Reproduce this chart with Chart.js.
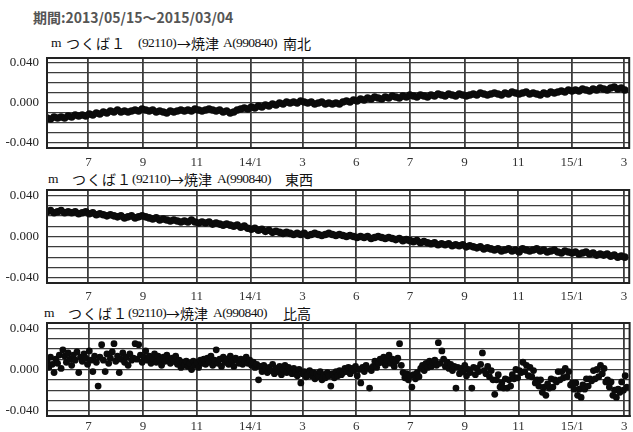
<!DOCTYPE html>
<html>
<head>
<meta charset="utf-8">
<script src="https://cdn.jsdelivr.net/npm/chart.js@4.4.0/dist/chart.umd.min.js"></script>
<style>
body { margin: 0; background: #fff; width: 633px; height: 432px; overflow: hidden; position: relative;
       font-family: "Liberation Serif", "Noto Sans CJK JP", serif; }
canvas { position: absolute; left: 0; }
.hdr { position: absolute; left: 33px; top: 7px; font: bold 14px "Noto Sans CJK JP", sans-serif; color: #555; white-space: nowrap; }
.t { position: absolute; font-size: 13.5px; letter-spacing: -0.6px; line-height: 16px; height: 16px; color: #111; white-space: nowrap; }
.j { font-family: "Noto Sans CJK JP", sans-serif; font-size: 14px; letter-spacing: 0; }
.k { letter-spacing: 1px; }
</style>
</head>
<body>
<div class="hdr">期間:2013/05/15～2015/03/04</div>

<div class="t" style="left:51px;top:35px">m</div>
<div class="t j k" style="left:66px;top:35px">つくば１</div>
<div class="t" style="left:138px;top:35px">(92110)</div>
<div class="t j" style="left:177px;top:35px">→焼津</div>
<div class="t" style="left:223px;top:35px">A(990840)</div>
<div class="t j" style="left:283px;top:35px">南北</div>

<div class="t" style="left:48px;top:171px">m</div>
<div class="t j k" style="left:72px;top:171px">つくば１</div>
<div class="t" style="left:132px;top:171px">(92110)</div>
<div class="t j" style="left:170px;top:171px">→焼津</div>
<div class="t" style="left:217px;top:171px">A(990840)</div>
<div class="t j" style="left:285px;top:171px">東西</div>

<div class="t" style="left:44px;top:305px">m</div>
<div class="t j k" style="left:68px;top:305px">つくば１</div>
<div class="t" style="left:128px;top:305px">(92110)</div>
<div class="t j" style="left:166px;top:305px">→焼津</div>
<div class="t" style="left:213px;top:305px">A(990840)</div>
<div class="t j" style="left:283px;top:305px">比高</div>

<canvas id="c1" width="633" height="120" style="top:50px"></canvas>
<canvas id="c2" width="633" height="123" style="top:182px"></canvas>
<canvas id="c3" width="633" height="117" style="top:315px"></canvas>
<script>
// days counted from 2013/05/15
const xTickDays = [47, 109, 170, 231, 290, 351, 412, 474, 535, 596, 655];
const xTickLabels = ['7', '9', '11', '14/1', '3', '6', '7', '9', '11', '15/1', '3'];
const yGrid = [-0.04, -0.03, -0.02, -0.01, 0, 0.01, 0.02, 0.03, 0.04];
const yLabelled = [-0.04, 0, 0.04];

// 南北, one value every 4 days (m)
const stepNS = 4;
const valuesNS = [
 -0.015,-0.016,-0.014,-0.015,-0.014,-0.015,-0.013,-0.014,-0.012,-0.013,-0.012,-0.013,
 -0.011,-0.012,-0.010,-0.011,-0.009,-0.010,-0.008,-0.009,-0.007,-0.009,-0.008,-0.009,
 -0.008,-0.007,-0.008,-0.006,-0.007,-0.008,-0.007,-0.009,-0.008,-0.009,-0.010,-0.008,
 -0.009,-0.008,-0.007,-0.008,-0.007,-0.008,-0.006,-0.007,-0.008,-0.007,-0.006,-0.007,
 -0.008,-0.007,-0.009,-0.008,-0.010,-0.009,-0.007,-0.006,-0.005,-0.006,-0.004,-0.005,
 -0.003,-0.004,-0.002,-0.003,-0.001,-0.002,0.000,-0.001,0.001,0.000,0.001,0.000,
 0.002,0.001,0.000,0.001,-0.001,0.000,0.001,-0.001,0.000,-0.001,0.000,-0.001,
 0.001,0.002,0.001,0.003,0.002,0.004,0.003,0.005,0.004,0.006,0.005,0.004,
 0.006,0.005,0.007,0.006,0.005,0.007,0.006,0.008,0.007,0.006,0.008,0.007,
 0.006,0.008,0.007,0.009,0.008,0.007,0.009,0.008,0.007,0.009,0.008,0.007,
 0.008,0.009,0.008,0.010,0.009,0.008,0.009,0.010,0.009,0.008,0.010,0.009,
 0.011,0.010,0.009,0.010,0.011,0.009,0.010,0.009,0.008,0.010,0.009,0.011,
 0.010,0.011,0.012,0.011,0.013,0.012,0.013,0.012,0.014,0.013,0.012,0.014,
 0.013,0.015,0.014,0.013,0.015,0.016,0.014,0.015,0.013
];

// 東西, one value every 4 days (m)
const stepEW = 4;
const valuesEW = [
 0.024,0.025,0.023,0.024,0.025,0.023,0.024,0.023,0.024,0.022,0.023,0.024,
 0.022,0.023,0.021,0.022,0.021,0.020,0.021,0.020,0.019,0.020,0.018,0.019,
 0.020,0.018,0.019,0.020,0.019,0.018,0.017,0.018,0.016,0.017,0.016,0.015,
 0.016,0.015,0.014,0.015,0.014,0.016,0.014,0.013,0.014,0.013,0.014,0.012,
 0.013,0.012,0.011,0.012,0.011,0.010,0.011,0.009,0.010,0.008,0.007,0.008,
 0.006,0.007,0.005,0.006,0.004,0.005,0.004,0.003,0.004,0.003,0.002,0.003,
 0.002,0.003,0.001,0.002,0.003,0.002,0.001,0.002,0.003,0.002,0.001,0.002,
 0.001,0.000,0.001,0.000,-0.001,0.000,-0.001,0.000,-0.002,-0.001,0.000,-0.001,
 -0.002,-0.001,-0.002,-0.003,-0.002,-0.004,-0.003,-0.004,-0.005,-0.004,-0.006,-0.005,
 -0.006,-0.007,-0.006,-0.008,-0.007,-0.008,-0.007,-0.009,-0.008,-0.009,-0.008,-0.010,
 -0.009,-0.010,-0.011,-0.010,-0.012,-0.011,-0.012,-0.013,-0.012,-0.014,-0.013,-0.012,
 -0.014,-0.013,-0.015,-0.012,-0.013,-0.014,-0.013,-0.012,-0.014,-0.013,-0.015,-0.014,
 -0.013,-0.015,-0.016,-0.014,-0.015,-0.016,-0.015,-0.017,-0.016,-0.015,-0.017,-0.016,
 -0.018,-0.017,-0.018,-0.017,-0.019,-0.018,-0.020,-0.019,-0.020
];

// 比高, one value every 2 days (m)
const stepUD = 2;
const valuesUD = [
 0.008,0.002,0.012,0.005,-0.003,0.010,0.006,0.014,0.001,0.019,
 0.013,0.007,0.016,0.010,0.004,0.014,0.009,0.017,-0.003,0.012,
 0.008,0.015,0.011,0.005,0.018,0.009,-0.002,0.013,0.007,-0.016,
 0.012,0.024,0.009,-0.002,0.015,0.006,0.011,0.017,0.025,0.008,
 0.013,-0.003,0.010,0.016,0.007,0.012,0.004,0.015,0.009,0.011,
 0.025,0.010,0.024,0.014,0.007,0.012,0.018,0.009,0.013,0.006,
 0.011,0.015,0.007,0.013,0.009,0.004,0.012,0.008,0.014,0.010,
 0.006,0.011,0.008,0.013,0.005,0.009,0.002,0.007,0.004,0.008,
 0.003,0.006,0.000,0.008,0.004,0.007,0.002,0.009,0.006,0.010,
 0.005,0.011,0.007,0.013,0.004,0.009,0.019,0.006,0.010,0.003,
 0.012,0.007,0.010,0.005,0.013,0.008,0.003,0.011,0.009,0.006,
 0.010,0.005,0.008,0.012,0.006,0.009,0.004,0.007,0.002,0.005,
 -0.010,0.003,-0.002,0.004,0.001,-0.003,0.002,-0.001,0.005,-0.004,
 0.001,-0.002,0.003,-0.005,0.000,0.004,-0.003,0.002,-0.001,-0.004,
 0.001,-0.003,-0.006,0.000,-0.013,-0.004,-0.002,-0.007,-0.005,-0.001,
 -0.006,-0.003,-0.009,-0.004,-0.007,-0.002,-0.010,-0.005,-0.008,-0.003,
 -0.006,-0.016,-0.004,-0.008,-0.002,-0.006,-0.001,-0.005,-0.003,0.001,
 -0.002,0.002,-0.004,0.001,-0.001,0.003,-0.006,0.000,-0.013,0.002,
 -0.002,0.004,0.001,-0.018,-0.001,0.003,0.008,0.002,0.006,0.010,
 0.007,0.012,0.004,0.009,0.014,0.006,0.010,0.003,0.008,0.011,
 0.025,0.004,-0.003,-0.008,-0.004,-0.010,-0.006,-0.017,-0.005,-0.009,
 -0.003,-0.007,0.001,0.004,-0.001,0.006,0.002,0.008,0.003,0.007,
 0.009,0.004,0.026,0.006,0.018,0.010,0.003,0.007,0.001,0.005,
 -0.001,0.003,-0.018,0.002,-0.004,0.001,-0.002,0.004,-0.006,0.000,
 -0.003,-0.018,0.002,-0.005,0.001,-0.002,0.005,0.016,-0.001,-0.004,
 0.003,-0.007,-0.001,-0.010,-0.024,-0.010,-0.005,-0.017,-0.013,-0.018,
 -0.009,-0.018,-0.010,-0.016,-0.005,-0.009,0.000,-0.008,-0.001,-0.003,
 0.007,-0.002,0.004,-0.006,0.002,-0.007,-0.001,-0.013,-0.010,-0.016,
 -0.010,-0.022,-0.017,-0.025,-0.014,-0.018,-0.009,-0.017,-0.010,-0.012,
 -0.002,-0.010,-0.002,-0.008,0.001,-0.007,-0.002,-0.015,-0.013,-0.019,
 -0.013,-0.025,-0.019,-0.027,-0.015,-0.019,-0.009,-0.016,-0.009,-0.011,
 -0.001,-0.009,0.000,-0.007,0.004,-0.004,0.001,-0.012,-0.010,-0.017,
 -0.012,-0.025,-0.020,-0.027,-0.019,-0.022,-0.012,-0.020,-0.006,-0.017
];

function makePanel(id, values, step, radius, axisH, labelPad) {
  const pts = values.map((v, i) => ({ x: i * step, y: v }));
  new Chart(document.getElementById(id), {
    type: 'scatter',
    data: { datasets: [{ data: pts, backgroundColor: '#0b0b0b', borderWidth: 0, pointRadius: radius, pointHoverRadius: radius }] },
    options: {
      responsive: false,
      animation: false,
      layout: { padding: { left: 0, right: 2, top: 8, bottom: 0 } },
      plugins: { legend: { display: false }, tooltip: { enabled: false } },
      scales: {
        x: {
          type: 'linear', min: 0, max: 661,
          afterBuildTicks: s => { s.ticks = xTickDays.map(v => ({ value: v })); },
          afterFit: s => { s.height = axisH; s.paddingLeft = 0; s.paddingRight = 0; },
          ticks: {
            autoSkip: false, maxRotation: 0, padding: labelPad, color: '#333',
            font: { family: '"Liberation Serif", serif', size: 13 },
            callback: (v, i) => xTickLabels[i]
          },
          grid: { color: '#3c3c3c', lineWidth: 1.8, drawTicks: false },
          border: { color: '#222', width: 2 }
        },
        y: {
          min: -0.045, max: 0.045,
          afterBuildTicks: s => { s.ticks = yGrid.map(v => ({ value: v })); },
          afterFit: s => { s.width = 47; s.paddingTop = 0; s.paddingBottom = 0; },
          ticks: {
            autoSkip: false, padding: 8, color: '#222',
            font: { family: '"Liberation Serif", serif', size: 13 },
            callback: v => yLabelled.some(l => Math.abs(l - v) < 1e-6) ? (Math.abs(v) < 1e-6 ? '0.000' : v.toFixed(3)) : ''
          },
          grid: { color: '#3c3c3c', lineWidth: 1.3, drawTicks: false },
          border: { color: '#222', width: 2 }
        }
      }
    },
    plugins: [{
      id: 'frame',
      afterDraw(c) {
        const a = c.chartArea, g = c.ctx;
        g.save();
        g.strokeStyle = '#222';
        g.lineWidth = 2;
        g.strokeRect(a.left, a.top, a.right - a.left, a.bottom - a.top);
        g.restore();
      }
    }]
  });
}

makePanel('c1', valuesNS, stepNS, 3.8, 22, 7);
makePanel('c2', valuesEW, stepEW, 3.8, 22, 6);
makePanel('c3', valuesUD, stepUD, 3.4, 16, 3);
</script>
</body>
</html>
